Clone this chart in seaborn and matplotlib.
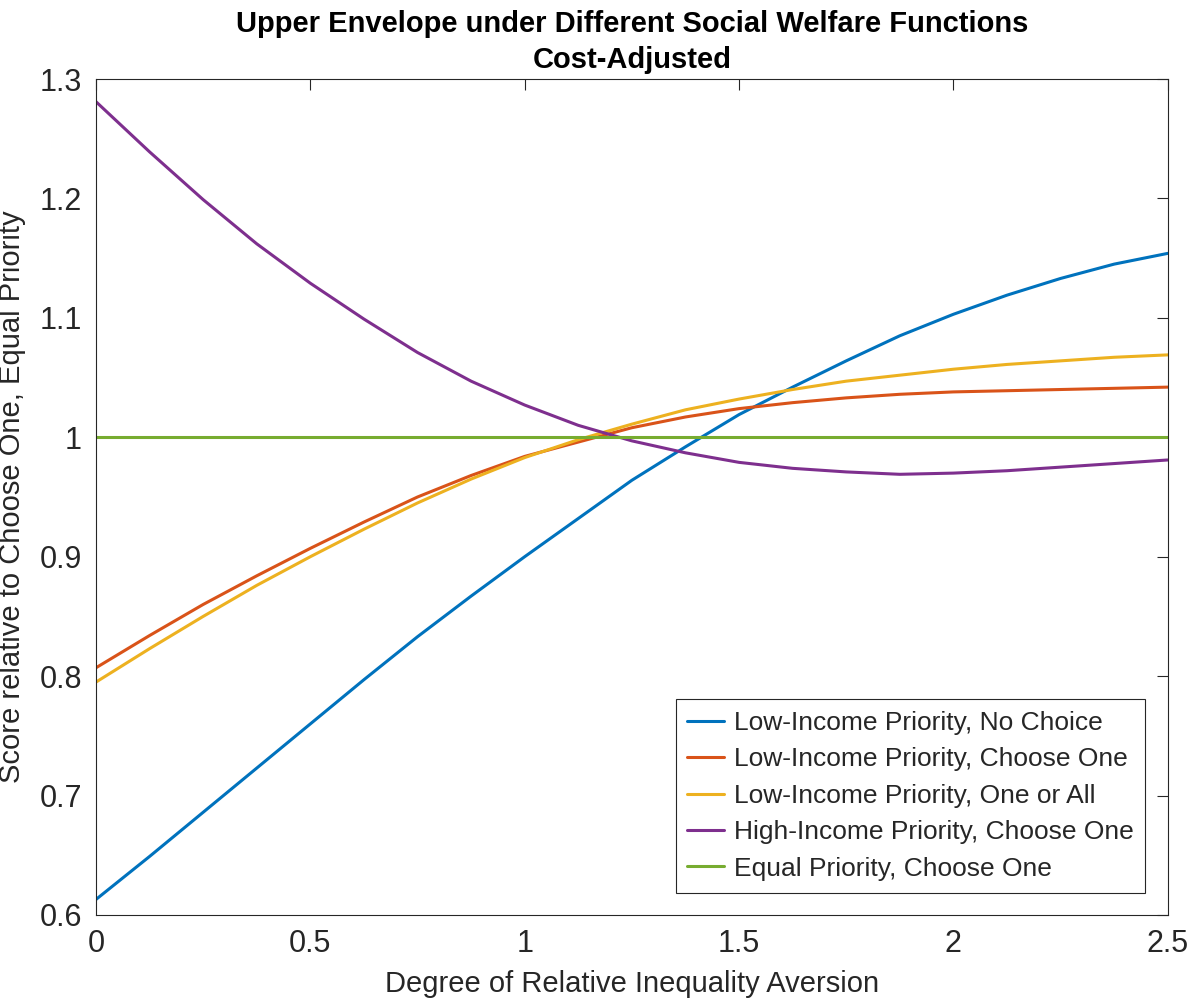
import matplotlib
matplotlib.use("Agg")
import matplotlib.pyplot as plt
import matplotlib.ticker as mtick
import seaborn as sns
import pandas as pd

# x grid: degree of relative inequality aversion (step 0.125)
aversion = [0.0, 0.125, 0.25, 0.375, 0.5, 0.625, 0.75, 0.875, 1.0, 1.125, 1.25,
            1.375, 1.5, 1.625, 1.75, 1.875, 2.0, 2.125, 2.25, 2.375, 2.5]

# values
low_no_choice = [0.613, 0.649, 0.686, 0.723, 0.760, 0.797, 0.833, 0.867, 0.900, 0.932, 0.964,
                 0.992, 1.019, 1.042, 1.064, 1.085, 1.103, 1.119, 1.133, 1.145, 1.154]
low_choose_one = [0.807, 0.834, 0.860, 0.884, 0.907, 0.929, 0.950, 0.968, 0.984, 0.996, 1.008,
                  1.017, 1.024, 1.029, 1.033, 1.036, 1.038, 1.039, 1.040, 1.041, 1.042]
low_one_or_all = [0.795, 0.823, 0.850, 0.876, 0.900, 0.923, 0.945, 0.965, 0.983, 0.998, 1.011,
                  1.023, 1.032, 1.040, 1.047, 1.052, 1.057, 1.061, 1.064, 1.067, 1.069]
high_choose_one = [1.281, 1.239, 1.199, 1.162, 1.129, 1.099, 1.071, 1.047, 1.027, 1.010, 0.997,
                   0.987, 0.979, 0.974, 0.971, 0.969, 0.970, 0.972, 0.975, 0.978, 0.981]
equal_choose_one = [1.0] * 21

labels = ['Low-Income Priority, No Choice', 'Low-Income Priority, Choose One',
          'Low-Income Priority, One or All', 'High-Income Priority, Choose One',
          'Equal Priority, Choose One']
colors = ['#0072BD', '#D95319', '#EDB120', '#7E2F8E', '#77AC30']

series = [low_no_choice, low_choose_one, low_one_or_all, high_choose_one, equal_choose_one]
rows = []
for lab, vals in zip(labels, series):
    for x, v in zip(aversion, vals):
        rows.append({'x': x, 'score': v, 'policy': lab})
df = pd.DataFrame(rows)

sns.set_style('white')
plt.rcParams['font.family'] = ['Liberation Sans', 'DejaVu Sans']

fig = plt.figure(figsize=(11.94, 10.08), dpi=100)
ax = fig.add_axes([0.0804, 0.0923, 0.8976, 0.8293])

sns.lineplot(data=df, x='x', y='score', hue='policy', hue_order=labels,
             palette=colors, linewidth=2.2, ax=ax)

ax.set_xlim(0, 2.5)
ax.set_ylim(0.6, 1.3)
ax.set_xticks([0, 0.5, 1, 1.5, 2, 2.5])
ax.set_yticks([0.6, 0.7, 0.8, 0.9, 1.0, 1.1, 1.2, 1.3])
ax.xaxis.set_major_formatter(mtick.FormatStrFormatter('%g'))
ax.yaxis.set_major_formatter(mtick.FormatStrFormatter('%g'))
ax.tick_params(direction='in', length=8, width=0.8, color='#262626', labelcolor='#262626',
               labelsize=22, top=True, right=True, pad=10)
for s in ax.spines.values():
    s.set_color('#262626')
    s.set_linewidth(0.8)

ax.set_xlabel('Degree of Relative Inequality Aversion', fontsize=21, color='#262626', labelpad=8)
ax.set_ylabel('Score relative to Choose One, Equal Priority', fontsize=21, color='#262626', labelpad=10)
ax.set_title('Upper Envelope under Different Social Welfare Functions\nCost-Adjusted',
             fontsize=21, fontweight='bold', color='black', pad=8, linespacing=1.35)

leg = ax.legend(loc='lower right', fontsize=19, frameon=True, fancybox=False,
                framealpha=1, edgecolor='#262626', handlelength=1.4, handletextpad=0.35,
                borderaxespad=0.85, labelspacing=0.47, borderpad=0.45)
leg.get_frame().set_linewidth(0.8)
for line in leg.get_lines():
    line.set_linewidth(2.2)

fig.savefig('out.png', dpi=100)
